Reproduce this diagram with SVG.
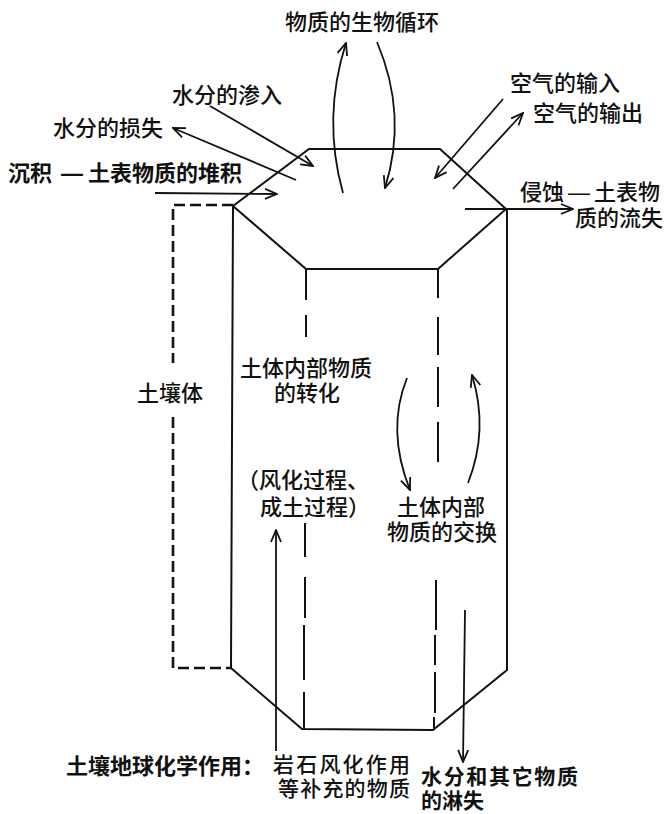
<svg xmlns="http://www.w3.org/2000/svg" width="666" height="814" viewBox="0 0 666 814">
<style>
text{font-family:"Liberation Sans","Noto Sans CJK SC",sans-serif;font-size:22px;fill:#111;}
.b{font-weight:700;}
.m{font-weight:500;}
.s{font-size:21px;}
.ln{fill:none;stroke:#111;stroke-width:2;stroke-linejoin:miter;}
.dash{fill:none;stroke:#111;stroke-width:2.6;stroke-dasharray:11 5;}
.ar{fill:none;stroke:#111;stroke-width:1.8;marker-end:url(#ah);}
</style>
<defs>
<marker id="ah" viewBox="0 0 14 12" refX="13" refY="6" markerWidth="14" markerHeight="12" markerUnits="userSpaceOnUse" orient="auto">
<path d="M1,1 L13,6 L1,11" fill="none" stroke="#111" stroke-width="1.8"/>
</marker>
</defs>
<rect width="666" height="814" fill="#fff"/>

<g id="soil-column">
<polygon class="ln" points="233,206 309,149 440,149 506,209 438,269 306,269"/>
<path class="ln" d="M233,206 L231,668 L302,729 L433,730 L507,670 L507,209"/>
<path class="ln" d="M306,269 V300 M306,315 V337 M305,523 V557 M305,577 V618 M304,625 V680 M304,692 V729"/>
<path class="ln" d="M438,269 V298 M438,317 V355 M438,367 V407 M438,422 V462 M436,580 V630 M435,635 V665 M435,672 V713 M434,717 V730"/>
</g>

<g id="soil-body-bracket">
<path class="dash" d="M233,205 H173 V363"/>
<path class="dash" d="M173,417 V668 H231"/>
<text x="137" y="401" class="m">土壤体</text>
</g>

<g id="connectors">
<path class="ar" d="M210,106 L313,166"/>
<path class="ar" d="M296,180 L173,128"/>
<path class="ar" d="M155,193 L277,194"/>
<path class="ar" d="M503,99 L435,178"/>
<path class="ar" d="M453,189 L523,113"/>
<path class="ar" d="M465,209 L573,209"/>
<path class="ar" d="M343,193 Q322,118 346,43"/>
<path class="ar" d="M377,42 Q408,115 385,188"/>
<path class="ar" d="M407,378 Q386,430 410,490"/>
<path class="ar" d="M468,483 Q489,430 472,375"/>
<path class="ar" d="M276,751 L276,530"/>
<path class="ar" d="M465,610 L463,762"/>
</g>

<g id="bio-cycle"><text x="285" y="30" class="m">物质的生物循环</text></g>
<g id="water-in"><text x="172" y="103" class="m">水分的渗入</text></g>
<g id="water-loss"><text x="53" y="136" class="m">水分的损失</text></g>
<g id="deposition"><text y="181" class="b"><tspan x="8">沉积</tspan><tspan x="61">—</tspan><tspan x="88">土表物质的堆积</tspan></text></g>
<g id="air-in"><text x="510" y="91" class="m">空气的输入</text></g>
<g id="air-out"><text x="533" y="121" class="m">空气的输出</text></g>
<g id="erosion">
<text y="200" class="m"><tspan x="520">侵蚀</tspan><tspan x="568">—</tspan><tspan x="594">土表物</tspan></text>
<text x="575" y="226" class="m">质的流失</text>
</g>
<g id="transformation">
<text x="240" y="376" class="m">土体内部物质</text>
<text x="274" y="401" class="m">的转化</text>
<text x="237" y="488" class="m">（风化过程、</text>
<text x="260" y="515" class="m">成土过程）</text>
</g>
<g id="exchange">
<text x="397" y="515" class="m">土体内部</text>
<text x="387" y="540" class="m">物质的交换</text>
</g>
<g id="geochem">
<text x="66" y="774" class="b">土壤地球化学作用：</text>
</g>
<g id="supply">
<text x="273" y="772" class="m s" textLength="137" lengthAdjust="spacing">岩石风化作用</text>
<text x="278" y="796" class="m s" textLength="132" lengthAdjust="spacing">等补充的物质</text>
</g>
<g id="leaching">
<text x="421" y="784" class="b s" textLength="157" lengthAdjust="spacing">水分和其它物质</text>
<text x="421" y="808" class="b s">的淋失</text>
</g>
</svg>
